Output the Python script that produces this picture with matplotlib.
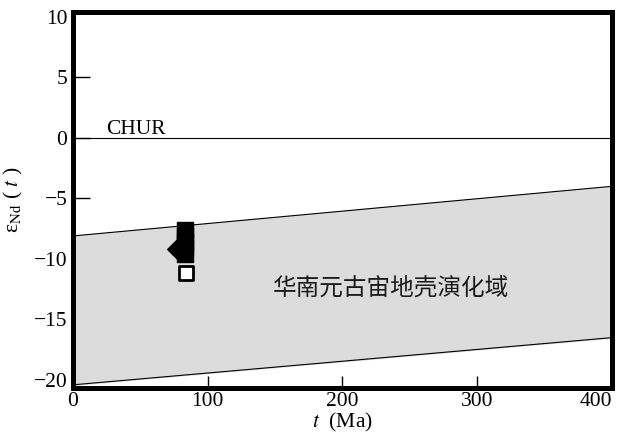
import numpy as np
import matplotlib.pyplot as plt

plt.rcParams['mathtext.fontset'] = 'stix'
plt.rcParams['font.family'] = ['Liberation Serif', 'Noto Sans CJK SC']

# evolution band of South China Proterozoic crust (eNd at t)
band_t = [0, 400]
band_upper = [-8.1, -4.0]
band_lower = [-20.4, -16.5]

# sample points
filled_t = [83, 83, 83, 83, 83]
filled_e = [-7.6, -8.1, -8.6, -9.1, -9.6]
diamond_t = [77]
diamond_e = [-9.2]
open_t = [84]
open_e = [-11.2]

fig = plt.figure(figsize=(6.17, 4.38), dpi=100)
ax = fig.add_axes([0.1183, 0.1142, 0.8736, 0.8584])
ax.set_axisbelow(True)

ax.fill_between(band_t, band_lower, band_upper, color='#dcdcdc', zorder=1)
ax.plot(band_t, band_upper, color='black', lw=0.8, zorder=2)
ax.plot(band_t, band_lower, color='black', lw=0.8, zorder=2)
ax.axhline(0, color='black', lw=0.8, zorder=2)

ax.scatter(filled_t, filled_e, marker='s', s=130, color='black', zorder=3)
ax.scatter(diamond_t, diamond_e, marker='D', s=100, color='black', zorder=3)
ax.scatter(open_t, open_e, marker='s', s=90, facecolor='white',
           edgecolor='black', linewidth=2, zorder=3)

ax.text(24.5, 0.3, 'CHUR', fontsize=15.5, ha='left', va='baseline')
ax.text(236, -12.4, '华南元古宙地壳演化域', fontsize=17, color='#1a1a1a',
        family=['Noto Sans CJK SC'], ha='center', va='center')

ax.set_xlim(0, 400)
ax.set_ylim(-20.66, 10.4)
ax.set_xticks([0, 100, 200, 300, 400])
ax.set_yticks([-20, -15, -10, -5, 0, 5, 10])
ax.tick_params(direction='in', length=9, width=1, labelsize=15.5, pad=3)
ax.tick_params(axis='y', length=12, pad=4)
ax.get_xticklabels()[-1].set_horizontalalignment('right')
ax.yaxis.get_major_ticks()[-1].tick1line.set_visible(False)

for s in ax.spines.values():
    s.set_linewidth(3.6)

ax.set_xlabel('$t$  (Ma)', fontsize=15.5, labelpad=0)
ax.set_ylabel(r'ε$_{\rm Nd}$ ( $t$ )', fontsize=15.5, labelpad=6)

fig.savefig('out.png', dpi=100)
